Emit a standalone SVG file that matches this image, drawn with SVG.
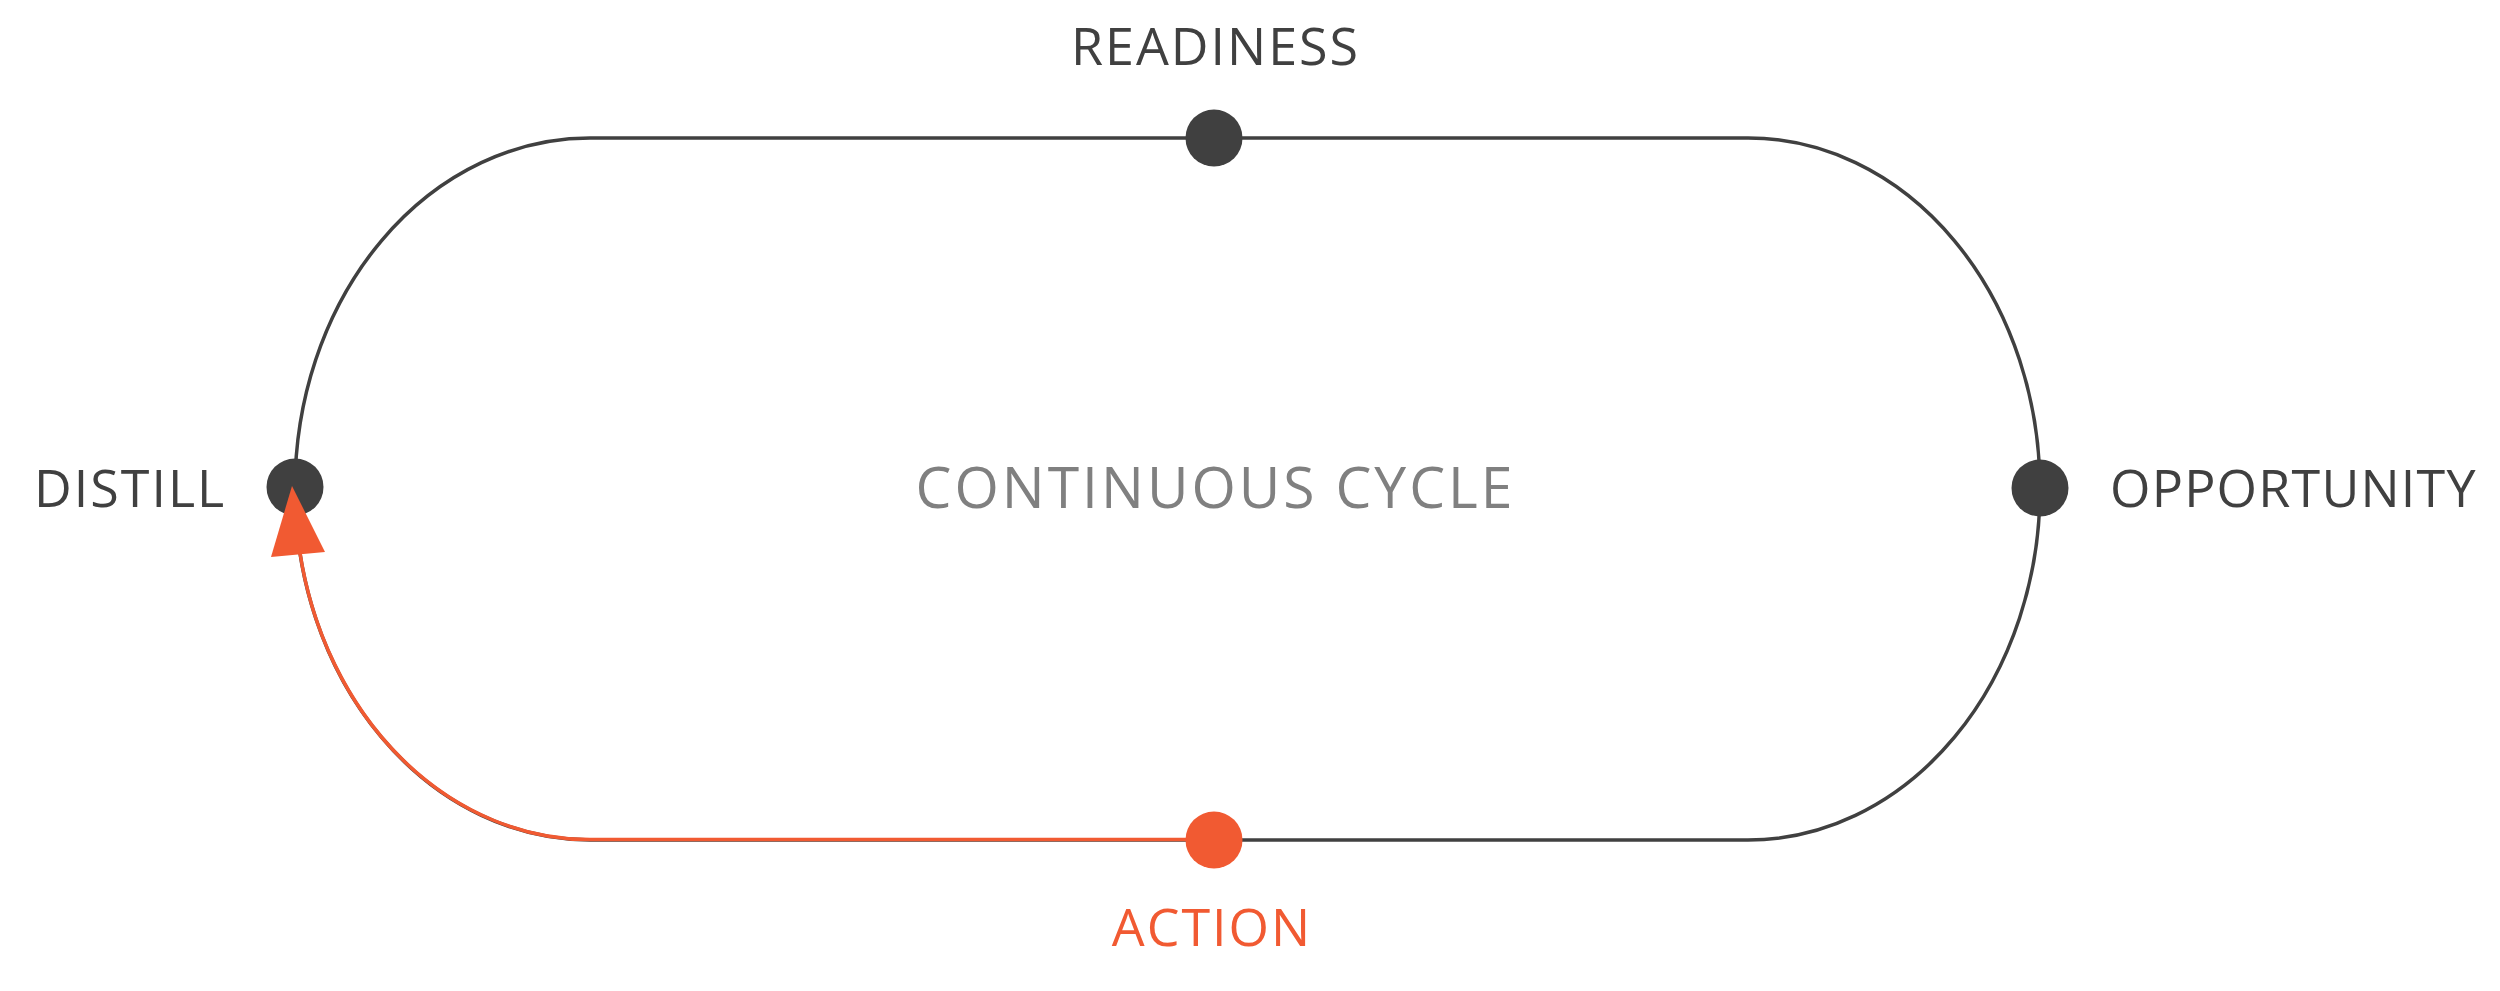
<svg xmlns="http://www.w3.org/2000/svg" width="2500" height="991" viewBox="0 0 2500 991">
<style>
.lbl{font-family:"Open Sans","Liberation Sans",sans-serif;font-size:52px;letter-spacing:2px;fill:#404040}
.act{fill:#F15A32}
.title{font-family:"Open Sans","Liberation Sans",sans-serif;font-size:57px;letter-spacing:3px;fill:#808080}
.track{fill:none;stroke:#404040;stroke-width:3.5}
.flow{fill:none;stroke:#F15A32;stroke-width:3.5}
.dot{fill:#404040}
.dot-act{fill:#F15A32}
</style>
<rect width="2500" height="991" fill="#ffffff"/>
<g id="connectors">
<path class="track" d="M590,138 H1748 A292,351 0 0 1 1748,840 H590 A295,351 0 0 1 590,138 Z"/>
<path class="flow" d="M1214,839.6 H590 A295,351 0 0 1 300,553"/>
</g>
<g id="node-readiness">
<circle class="dot" cx="1214" cy="138" r="28.5"/>
<text class="lbl" x="1215.5" y="65" text-anchor="middle">READINESS</text>
</g>
<g id="node-opportunity">
<circle class="dot" cx="2040" cy="488" r="28.5"/>
<text class="lbl" x="2110" y="507" style="letter-spacing:1.2px">OPPORTUNITY</text>
</g>
<g id="node-distill">
<circle class="dot" cx="295" cy="487" r="28.5"/>
<text class="lbl" x="34" y="507">DISTILL</text>
</g>
<g id="node-action">
<circle class="dot-act" cx="1214" cy="840" r="28.5"/>
<text class="lbl act" x="1212" y="946" text-anchor="middle">ACTION</text>
</g>
<g id="arrowhead">
<polygon fill="#F15A32" points="292,486 271,557 325,552"/>
</g>
<g id="title">
<text class="title" x="1215.5" y="508" text-anchor="middle">CONTINUOUS CYCLE</text>
</g>
</svg>
